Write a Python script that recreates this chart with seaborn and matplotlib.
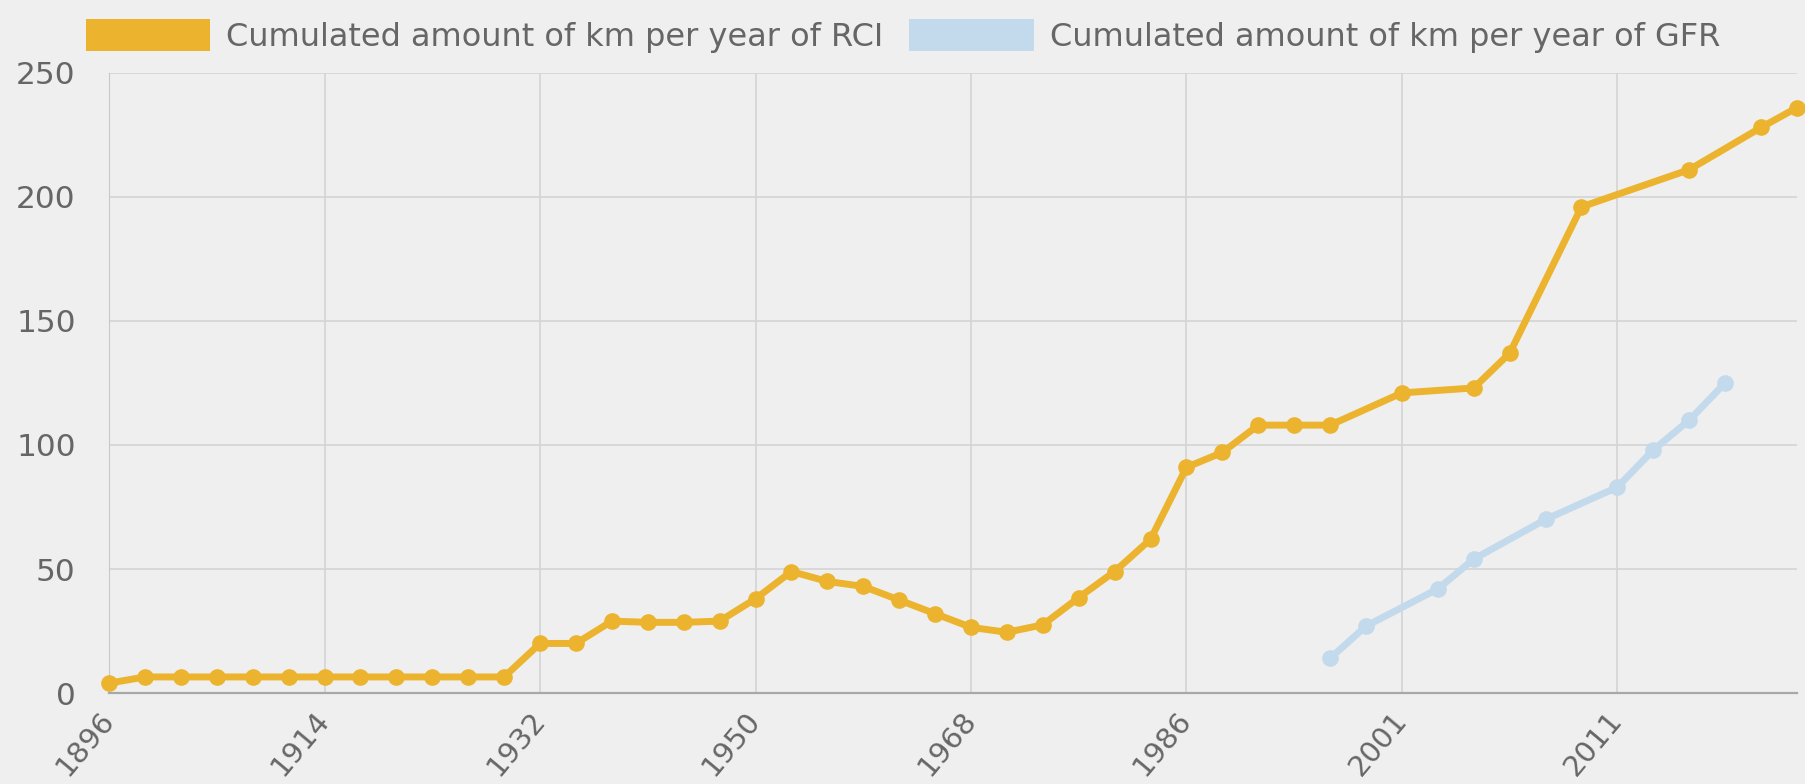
import numpy as np
import pandas as pd
import seaborn as sns
import matplotlib.pyplot as plt
from matplotlib.patches import Patch

# category labels (only every 6th one is shown on the axis)
years = [1896, 1899, 1902, 1905, 1908, 1911, 1914, 1917, 1920, 1923, 1926, 1929,
         1932, 1935, 1938, 1941, 1944, 1947, 1950, 1953, 1956, 1959, 1962, 1965,
         1968, 1971, 1974, 1977, 1980, 1983, 1986, 1989, 1992, 1995, 1997, 1999,
         2001, 2003, 2005, 2007, 2009, 2010, 2011, 2012, 2013, 2014, 2015, 2016]

nan = np.nan
rci_km = [4, 6.5, 6.5, 6.5, 6.5, 6.5, 6.5, 6.5, 6.5, 6.5, 6.5, 6.5,
          20, 20, 29, 28.5, 28.5, 29, 38, 49, 45, 43, 37.5, 32,
          26.5, 24.5, 27.5, 38.5, 49, 62, 91, 97, 108, 108, 108, nan,
          121, nan, 123, 137, nan, 196, nan, nan, 211, nan, 228, 236]

gfr_km = [nan] * 34 + [14, 27, nan, 42, 54, nan, 70, nan, 83, 98, 110, 125, nan, nan]

rci_label = "Cumulated amount of km per year of RCI"
gfr_label = "Cumulated amount of km per year of GFR"
rci_color = "#ecb42e"
gfr_color = "#c3d9ec"
bg = "#efefef"
grid_c = "#d4d4d4"
text_c = "#666666"

df = pd.DataFrame({"pos": np.arange(len(years)), "year": years,
                   "RCI": rci_km, "GFR": gfr_km})

sns.set_style("white", {"axes.facecolor": bg, "figure.facecolor": bg})
plt.rcParams["font.family"] = ["DejaVu Sans"]

fig = plt.figure(figsize=(18.06, 7.84), dpi=100)
ax = fig.add_axes([0.0604, 0.116, 0.9346, 0.791])

sns.lineplot(data=df, x="pos", y="RCI", ax=ax, color=rci_color, linewidth=5,
             marker="o", markersize=12, markeredgewidth=0, clip_on=False, zorder=4)
sns.lineplot(data=df, x="pos", y="GFR", ax=ax, color=gfr_color, linewidth=5,
             marker="o", markersize=12, markeredgewidth=0, clip_on=False, zorder=3)

ax.set_xlim(0, len(years) - 1)
ax.set_ylim(0, 250)
ax.set_yticks(range(0, 251, 50))
ax.set_xticks(df["pos"][::6])
ax.set_xticklabels([str(y) for y in df["year"][::6]], rotation=50,
                   ha="right", va="center", rotation_mode="anchor")
ax.set_xlabel("")
ax.set_ylabel("")
ax.grid(True, color=grid_c, linewidth=1.2)
ax.set_axisbelow(True)
ax.tick_params(axis="both", colors=grid_c, labelcolor=text_c, width=1.2)
ax.tick_params(axis="y", labelsize=22.5, length=20, pad=4)
ax.tick_params(axis="x", labelsize=21, length=8, pad=8)
for side in ["top", "right"]:
    ax.spines[side].set_visible(False)
ax.spines["left"].set_color("#c8c8c8")
ax.spines["bottom"].set_color("#a8a8a8")
ax.spines["bottom"].set_linewidth(1.6)

handles = [Patch(facecolor=rci_color, edgecolor="none"),
           Patch(facecolor=gfr_color, edgecolor="none")]
fig.legend(handles, [rci_label, gfr_label], loc="upper center",
           bbox_to_anchor=(0.5, 1.0), ncol=2, frameon=False, fontsize=23,
           labelcolor=text_c, handlelength=3.9, handleheight=1.15,
           handletextpad=0.5, columnspacing=0.8, borderaxespad=0.2)

fig.savefig("out.png", dpi=100, facecolor=bg)
